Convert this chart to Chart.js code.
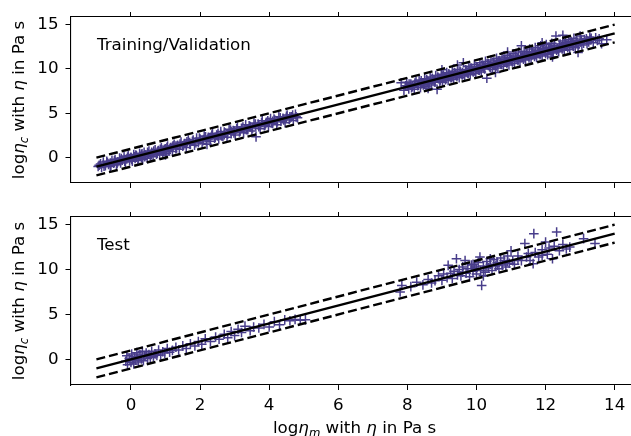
<!DOCTYPE html>
<html>
<head>
<meta charset="utf-8">
<script src="https://cdn.jsdelivr.net/npm/chart.js@4/dist/chart.umd.min.js"></script>
<style>
  body { margin: 0; overflow: hidden; background: #fff; width: 631px; height: 436px; position: relative; }
  canvas { position: absolute; left: 0; }
  #topPlot { top: 0; }
  #bottomPlot { top: 200px; }
</style>
</head>
<body>
<canvas id="topPlot" width="680" height="200"></canvas>
<canvas id="bottomPlot" width="680" height="236"></canvas>
<script>
// axis limits and ticks (shared by both panels)
const xMin = -1.75, xMax = 14.75;
const yMin = -2.85, yMax = 15.85;
const xTicks = [0, 2, 4, 6, 8, 10, 12, 14];
const yTicks = [0, 5, 10, 15];

// reference lines y = x and y = x +/- 1
const lineX = [-1, 14];
const lineMid = [-1, 14];
const lineUpper = [0, 15];
const lineLower = [-2, 13];

// training / validation points
const trainX = [
  -0.92, -0.85, -0.8, -0.74, -0.7, -0.65, -0.6, -0.55, -0.5, -0.46, -0.42, -0.38, -0.33, -0.3, -0.25, -0.2,
  -0.16, -0.12, -0.08, -0.04, 0.0, 0.04, 0.08, 0.12, 0.16, 0.2, 0.25, 0.3, 0.34, 0.38, 0.42, 0.47,
  0.52, 0.56, 0.6, 0.64, 0.7, 0.74, 0.78, 0.83, 0.88, 0.92, 0.97, 1.02, 1.06, 1.1, 1.15, 1.2,
  1.25, 1.3, 1.35, 1.4, 1.45, 1.5, 1.55, 1.6, 1.66, 1.72, 1.78, 1.84, 1.9, 1.95, 2.0, 2.06,
  2.12, 2.18, 2.24, 2.3, 2.36, 2.42, 2.48, 2.54, 2.6, 2.66, 2.72, 2.78, 2.84, 2.9, 2.96, 3.02,
  3.08, 3.14, 3.2, 3.26, 3.32, 3.38, 3.44, 3.5, 3.56, 3.62, 3.68, 3.74, 3.8, 3.86, 3.92, 3.98,
  4.04, 4.1, 4.16, 4.22, 4.28, 4.34, 4.4, 4.46, 4.52, 4.58, 4.64, 4.7, 4.76, 4.82,
  -0.6, 0.1, 0.5, 0.9, 1.3, 1.7, 2.1, 2.5, 2.9, 3.3, 3.7, 4.1, 4.5, 0.3, 1.0, 2.7, 3.9, -0.3, 2.2, 1.0,
  -0.88, -0.78, -0.68, -0.58, -0.48, -0.4, -0.28, -0.18, -0.1, 0.02, 0.14, 0.22, 0.32, 0.4, 0.48, 0.58,
  0.66, 0.76, 0.85, 0.95, 1.04, 1.12, 1.22, 1.32, 1.42, 1.52, 1.62, 1.7, 1.8, 1.88, 1.98, 2.08,
  2.16, 2.26, 2.34, 2.44, 2.52, 2.62, 2.7, 2.8, 2.88, 2.98, 3.06, 3.16, 3.24, 3.34, 3.42, 3.52,
  3.6, 3.7, 3.78, 3.88, 3.96, 4.06, 4.14, 4.24, 4.32, 4.42, 4.5, 4.6, 4.68, 4.78,
  -0.95, 0.6, 1.6, 2.6, 3.6, 4.6, 0.0, 2.0, 3.0, 4.0, 1.2, 0.8, 2.3, 3.45,
  7.82, 7.9, 7.98, 8.04, 8.1, 8.15, 8.2, 8.25, 8.3, 8.34, 8.38, 8.42, 8.46, 8.5, 8.54, 8.58,
  8.62, 8.66, 8.7, 8.74, 8.78, 8.82, 8.86, 8.9, 8.94, 8.98, 9.02, 9.06, 9.1, 9.14, 9.18, 9.22,
  9.26, 9.3, 9.34, 9.38, 9.42, 9.46, 9.5, 9.54, 9.58, 9.62, 9.66, 9.7, 9.74, 9.78, 9.82, 9.86,
  9.9, 9.94, 9.98, 10.02, 10.06, 10.1, 10.14, 10.18, 10.22, 10.26, 10.3, 10.34, 10.38, 10.42, 10.46, 10.5,
  10.54, 10.58, 10.62, 10.66, 10.7, 10.74, 10.78, 10.82, 10.86, 10.9, 10.94, 10.98, 11.02, 11.06, 11.1, 11.14,
  11.18, 11.22, 11.26, 11.3, 11.34, 11.38, 11.42, 11.46, 11.5, 11.54, 11.58, 11.62, 11.66, 11.7, 11.74, 11.78,
  11.82, 11.86, 11.9, 11.94, 11.98, 12.02, 12.06, 12.1, 12.14, 12.18, 12.22, 12.26, 12.3, 12.34, 12.38, 12.42,
  12.46, 12.5, 12.54, 12.58, 12.62, 12.66, 12.7, 12.74, 12.78, 12.82, 12.86, 12.9, 12.94, 13.0, 13.05, 13.12,
  13.2, 13.28, 13.38, 13.5, 13.62, 13.77,
  8.0, 8.4, 8.8, 9.2, 9.6, 10.0, 10.4, 10.8, 11.2, 11.6, 12.0, 12.4, 12.8, 13.2,
  8.6, 9.0, 9.4, 9.8, 10.2, 10.6, 11.0, 11.4, 11.8, 12.2, 12.6, 13.0,
  7.95, 8.05, 8.12, 8.22, 8.32, 8.4, 8.48, 8.56, 8.64, 8.72, 8.8, 8.88, 8.96, 9.04, 9.12, 9.2,
  9.28, 9.36, 9.44, 9.52, 9.6, 9.68, 9.76, 9.84, 9.92, 10.0, 10.08, 10.16, 10.24, 10.32, 10.4, 10.48,
  10.56, 10.64, 10.72, 10.8, 10.88, 10.96, 11.04, 11.12, 11.2, 11.28, 11.36, 11.44, 11.52, 11.6, 11.68, 11.76,
  11.84, 11.92, 12.0, 12.08, 12.16, 12.24, 12.32, 12.4, 12.48, 12.56, 12.64, 12.72, 12.8, 12.88, 12.96, 13.04,
  13.1, 13.18, 13.25, 13.32, 13.45, 13.55,
  8.2, 8.5, 8.9, 9.3, 9.7, 10.1, 10.5, 10.9, 11.3, 11.7, 12.1, 12.5, 12.9, 13.3,
  9.45, 10.55, 11.9, 12.5, 8.6, 12.2, 9.0, 10.9
];
const trainY = [
  -0.85, -1.1, -0.5, -0.9, -0.4, -0.75, -1.0, -0.3, -0.62, -0.2, -0.8, -0.45, -0.05, -0.6, -0.28, 0.1,
  -0.5, -0.15, 0.25, -0.35, 0.05, -0.4, 0.35, -0.1, 0.2, -0.3, 0.5, 0.0, -0.2, 0.6, 0.3, -0.05,
  0.75, 0.2, 0.55, 0.1, 0.9, 0.4, 0.75, 0.3, 1.1, 0.6, 0.95, 0.5, 1.3, 0.8, 1.15, 0.7,
  1.5, 1.0, 1.4, 0.95, 1.75, 1.3, 1.6, 1.15, 2.0, 1.5, 1.85, 1.4, 2.2, 1.7, 2.1, 1.6,
  2.45, 1.9, 2.3, 1.85, 2.7, 2.2, 2.55, 2.1, 2.95, 2.4, 2.8, 2.3, 3.2, 2.7, 3.05, 2.55,
  3.45, 2.9, 3.3, 2.8, 3.7, 3.15, 3.55, 3.0, 3.9, 2.35, 3.8, 3.25, 4.15, 3.6, 4.0, 3.5,
  4.4, 3.85, 4.25, 3.7, 4.6, 4.1, 4.45, 3.95, 4.8, 4.35, 4.6, 4.2, 4.9, 4.5,
  -0.6, 0.1, 0.45, 0.85, 1.3, 1.7, 2.05, 2.45, 2.95, 3.25, 3.65, 4.1, 4.5, 0.35, 1.0, 2.6, 3.85, -0.3, 1.5, 0.3,
  -0.7, -0.95, -0.55, -0.85, -0.35, -0.65, -0.1, -0.4, 0.05, -0.2, 0.3, -0.05, 0.45, 0.1, 0.6, 0.3,
  0.75, 0.5, 0.95, 0.7, 1.15, 0.95, 1.35, 1.1, 1.55, 1.4, 1.8, 1.55, 2.0, 1.7, 2.2, 1.9,
  2.35, 2.1, 2.55, 2.3, 2.75, 2.45, 2.9, 2.65, 3.1, 2.8, 3.25, 3.0, 3.45, 3.15, 3.6, 3.35,
  3.8, 3.5, 3.95, 3.7, 4.15, 3.9, 4.35, 4.05, 4.5, 4.25, 4.65, 4.45, 4.8, 4.6,
  -1.0, 0.6, 1.6, 2.6, 3.6, 4.6, 0.0, 2.0, 3.0, 4.0, 1.2, 0.8, 2.3, 3.45,
  8.45, 7.6, 8.5, 7.75, 8.3, 8.0, 7.7, 8.6, 8.1, 8.75, 7.9, 8.45, 8.2, 8.9, 8.0, 8.6,
  8.35, 9.1, 8.2, 8.8, 8.55, 9.25, 7.7, 8.95, 8.6, 9.4, 8.5, 9.1, 8.8, 9.6, 8.7, 9.3,
  9.0, 9.75, 8.85, 9.5, 9.2, 9.95, 9.0, 9.65, 9.35, 10.7, 9.2, 9.85, 9.55, 10.3, 9.35, 10.05,
  9.7, 10.5, 9.5, 10.2, 9.9, 10.7, 9.65, 10.4, 10.05, 10.85, 8.95, 10.6, 10.25, 11.0, 9.95, 10.75,
  10.45, 11.2, 10.1, 10.9, 10.6, 11.35, 10.3, 11.1, 10.8, 11.55, 10.45, 11.25, 10.95, 11.7, 10.6, 11.45,
  11.15, 11.9, 10.8, 12.6, 11.35, 12.0, 11.0, 11.8, 11.5, 12.25, 11.15, 11.95, 11.65, 12.4, 11.3, 12.1,
  11.8, 12.6, 11.45, 12.3, 12.0, 12.75, 11.6, 12.45, 12.15, 12.9, 11.8, 12.6, 13.7, 12.3, 11.95, 12.8,
  12.45, 13.15, 12.1, 12.95, 12.6, 13.3, 12.2, 13.1, 12.75, 13.45, 12.4, 13.2, 11.85, 13.7, 12.7, 13.3,
  12.85, 13.6, 12.95, 13.2, 12.85, 13.3,
  8.05, 8.35, 8.8, 9.15, 9.6, 10.0, 10.35, 10.8, 11.2, 11.55, 12.0, 12.4, 12.75, 13.2,
  8.55, 9.05, 9.4, 9.85, 10.15, 10.6, 11.0, 11.4, 11.75, 12.2, 12.55, 13.0,
  8.1, 8.3, 7.9, 8.4, 8.2, 8.65, 8.3, 8.8, 8.45, 8.95, 8.5, 9.1, 8.75, 9.3, 8.9, 9.45,
  9.05, 9.6, 9.2, 9.75, 9.35, 9.9, 9.5, 10.1, 9.7, 10.25, 9.85, 10.4, 10.0, 10.55, 10.15, 10.7,
  10.3, 10.85, 10.5, 11.05, 10.65, 11.2, 10.8, 11.35, 10.95, 11.5, 11.1, 11.65, 11.25, 11.85, 11.4, 12.0,
  11.6, 12.15, 11.75, 12.3, 11.9, 12.45, 12.1, 12.6, 12.25, 12.8, 12.4, 12.95, 12.55, 13.1, 12.75, 13.25,
  12.9, 13.4, 13.05, 13.45, 13.5, 13.4,
  8.2, 8.45, 8.9, 9.3, 9.7, 10.1, 10.5, 10.9, 11.3, 11.7, 12.1, 12.5, 12.9, 13.3,
  10.45, 9.6, 12.95, 13.8, 7.8, 11.35, 9.9, 11.9
];

// test points
const testX = [
  -0.15, -0.12, -0.1, -0.05, 0.0, 0.02, 0.05, 0.08, 0.1, 0.14, 0.17, 0.2, 0.22, 0.26, 0.3, 0.33,
  0.36, 0.4, 0.44, 0.48, 0.52, 0.56, 0.6, 0.65, 0.7, 0.75, 0.8, 0.86, 0.92, 0.98, 1.05, 1.12,
  1.2, 1.3, 1.38, 1.5, 1.6, 1.72, 1.85, 1.95, 2.05, 2.15, 2.3, 2.45, 2.55, 2.7, 2.8, 2.9,
  3.0, 3.1, 3.2, 3.3, 3.45, 3.55, 3.7, 3.85, 4.0, 4.15, 4.3, 4.45, 4.6, 4.75, 4.9, 5.05,
  7.79, 7.84, 8.1, 8.27, 8.45, 8.6, 8.7, 8.8, 8.9, 9.0, 9.05, 9.15, 9.18, 9.25, 9.3, 9.35,
  9.42, 9.45, 9.5, 9.55, 9.6, 9.67, 9.7, 9.75, 9.8, 9.85, 9.9, 9.95, 10.0, 10.05, 10.1, 10.12,
  10.15, 10.2, 10.25, 10.3, 10.35, 10.4, 10.45, 10.5, 10.55, 10.6, 10.65, 10.7, 10.75, 10.8, 10.85, 10.9,
  10.95, 11.0, 11.05, 11.1, 11.2, 11.3, 11.4, 11.45, 11.55, 11.64, 11.66, 11.7, 11.8, 11.9, 12.0, 12.05,
  12.1, 12.2, 12.25, 12.32, 12.4, 12.5, 12.6, 12.7, 13.1, 13.43,
  9.6, 10.0, 10.3, 10.6, 10.9, 11.2, 9.9, 10.4, 10.2, 11.5, 11.9
];
const testY = [
  -0.2, 0.4, -0.6, 0.1, -0.35, 0.6, 0.0, -0.5, 0.3, -0.1, 0.75, 0.15, -0.3, 0.5, 0.05, 0.9,
  -0.15, 0.4, 0.7, 0.1, 0.55, 0.25, 0.9, 0.3, 0.6, 0.45, 1.05, 0.5, 0.85, 0.7, 1.2, 0.8,
  1.0, 1.35, 1.05, 1.5, 1.2, 1.75, 1.5, 2.0, 1.7, 2.3, 2.0, 2.5, 2.25, 2.8, 2.4, 3.1,
  2.65, 3.35, 3.0, 3.7, 3.2, 3.6, 3.5, 3.9, 3.6, 4.2, 3.85, 4.4, 4.3, 4.45, 4.35, 4.4,
  7.5, 8.24, 8.1, 8.6, 8.3, 8.9, 8.5, 8.75, 9.3, 8.8, 9.5, 9.1, 10.47, 9.6, 9.0, 9.8,
  11.2, 9.4, 10.0, 9.3, 10.3, 11.0, 9.6, 10.1, 9.2, 10.5, 9.8, 10.3, 9.5, 10.8, 11.4, 9.9,
  8.24, 10.4, 9.7, 10.9, 10.2, 10.6, 9.9, 11.1, 10.4, 10.8, 10.1, 11.3, 10.5, 11.0, 10.3, 11.5,
  10.7, 12.1, 11.0, 10.6, 11.5, 11.0, 12.9, 11.4, 11.0, 10.66, 14.0, 11.9, 11.4, 12.2, 13.06, 11.7,
  12.4, 11.2, 12.6, 14.18, 12.1, 12.8, 12.3, 12.5, 13.44, 12.89,
  9.7, 10.1, 10.3, 10.5, 10.9, 11.1, 10.6, 11.2, 9.3, 11.8, 11.6
];

const markerColor = '#483d8b';
const fontFamily = '"DejaVu Sans", sans-serif';
const fontSize = 16.7;

function toPoints(xs, ys) {
  return xs.map((x, i) => ({ x: x, y: ys[i] }));
}

// draws text with italic / subscript pieces, like matplotlib mathtext
function drawRich(ctx, parts, x, y, rotate) {
  ctx.save();
  ctx.translate(x, y);
  if (rotate) ctx.rotate(-Math.PI / 2);
  const fonts = parts.map(p => (p.it ? 'italic ' : '') + (p.sub ? fontSize * 0.7 : fontSize) + 'px ' + fontFamily);
  let total = 0;
  parts.forEach((p, i) => { ctx.font = fonts[i]; total += ctx.measureText(p.t).width; });
  let cx = -total / 2;
  ctx.fillStyle = '#000';
  ctx.textBaseline = 'alphabetic';
  parts.forEach((p, i) => {
    ctx.font = fonts[i];
    ctx.fillText(p.t, cx, p.sub ? fontSize * 0.22 : 0);
    cx += ctx.measureText(p.t).width;
  });
  ctx.restore();
}

function titleParts(sub) {
  return [
    { t: 'log' }, { t: 'η', it: true }, { t: sub, it: true, sub: true },
    { t: ' with ' }, { t: 'η', it: true }, { t: ' in Pa s' }
  ];
}

const textPlugin = {
  id: 'panelText',
  afterDraw(chart, args, opts) {
    const ctx = chart.ctx;
    const area = chart.chartArea;
    drawRich(ctx, titleParts('c'), 24, (area.top + area.bottom) / 2, true);
    ctx.save();
    ctx.font = fontSize + 'px ' + fontFamily;
    ctx.fillStyle = '#000';
    ctx.textBaseline = 'alphabetic';
    ctx.fillText(opts.label, 97, area.top + 33);
    ctx.restore();
    if (opts.xTitle) {
      drawRich(ctx, titleParts('m'), (area.left + 640.6) / 2 - 1, chart.height - 3, false);
    }
  }
};

function makeChart(id, xs, ys, label, topH, bottomH, showXLabels) {
  const tickGrid = { display: true, drawOnChartArea: false, drawTicks: true, tickLength: 5, color: '#000', lineWidth: 1 };
  const border = { display: true, color: '#000', width: 1.1 };
  const setTicks = list => scale => { scale.ticks = list.map(v => ({ value: v })); };
  return new Chart(document.getElementById(id), {
    type: 'scatter',
    data: {
      datasets: [
        { data: toPoints(lineX, lineMid), showLine: true, borderColor: '#000', borderWidth: 2.4, pointRadius: 0, order: 1 },
        { data: toPoints(lineX, lineUpper), showLine: true, borderColor: '#000', borderWidth: 2.4, borderDash: [9, 4], pointRadius: 0, order: 1 },
        { data: toPoints(lineX, lineLower), showLine: true, borderColor: '#000', borderWidth: 2.4, borderDash: [9, 4], pointRadius: 0, order: 1 },
        { data: toPoints(xs, ys), pointStyle: 'cross', pointRadius: 4.8, borderColor: markerColor, borderWidth: 1.5, order: 2 }
      ]
    },
    options: {
      responsive: false,
      animation: false,
      devicePixelRatio: 1,
      layout: { padding: { left: 0, right: 680 - 640.6, top: 0, bottom: 0 } },
      plugins: { legend: { display: false }, tooltip: { enabled: false }, panelText: { label: label, xTitle: showXLabels } },
      scales: {
        x: {
          type: 'linear', position: 'bottom', min: xMin, max: xMax,
          afterBuildTicks: setTicks(xTicks),
          afterFit: s => { s.height = bottomH; },
          grid: tickGrid, border: border,
          ticks: { display: showXLabels, padding: 6, color: '#000', font: { family: fontFamily, size: fontSize } }
        },
        xTop: {
          type: 'linear', position: 'top', min: xMin, max: xMax,
          afterBuildTicks: setTicks(xTicks),
          afterFit: s => { s.height = topH; },
          grid: tickGrid, border: border,
          ticks: { display: false }
        },
        y: {
          type: 'linear', position: 'left', min: yMin, max: yMax,
          afterBuildTicks: setTicks(yTicks),
          afterFit: s => { s.width = 70.5; },
          grid: tickGrid, border: border,
          ticks: { padding: 7, color: '#000', font: { family: fontFamily, size: fontSize } }
        }
      }
    },
    plugins: [textPlugin]
  });
}

makeChart('topPlot', trainX, trainY, 'Training/Validation', 15, 200 - 183.3, false);
makeChart('bottomPlot', testX, testY, 'Test', 16.7, 236 - 185, true);
</script>
</body>
</html>
